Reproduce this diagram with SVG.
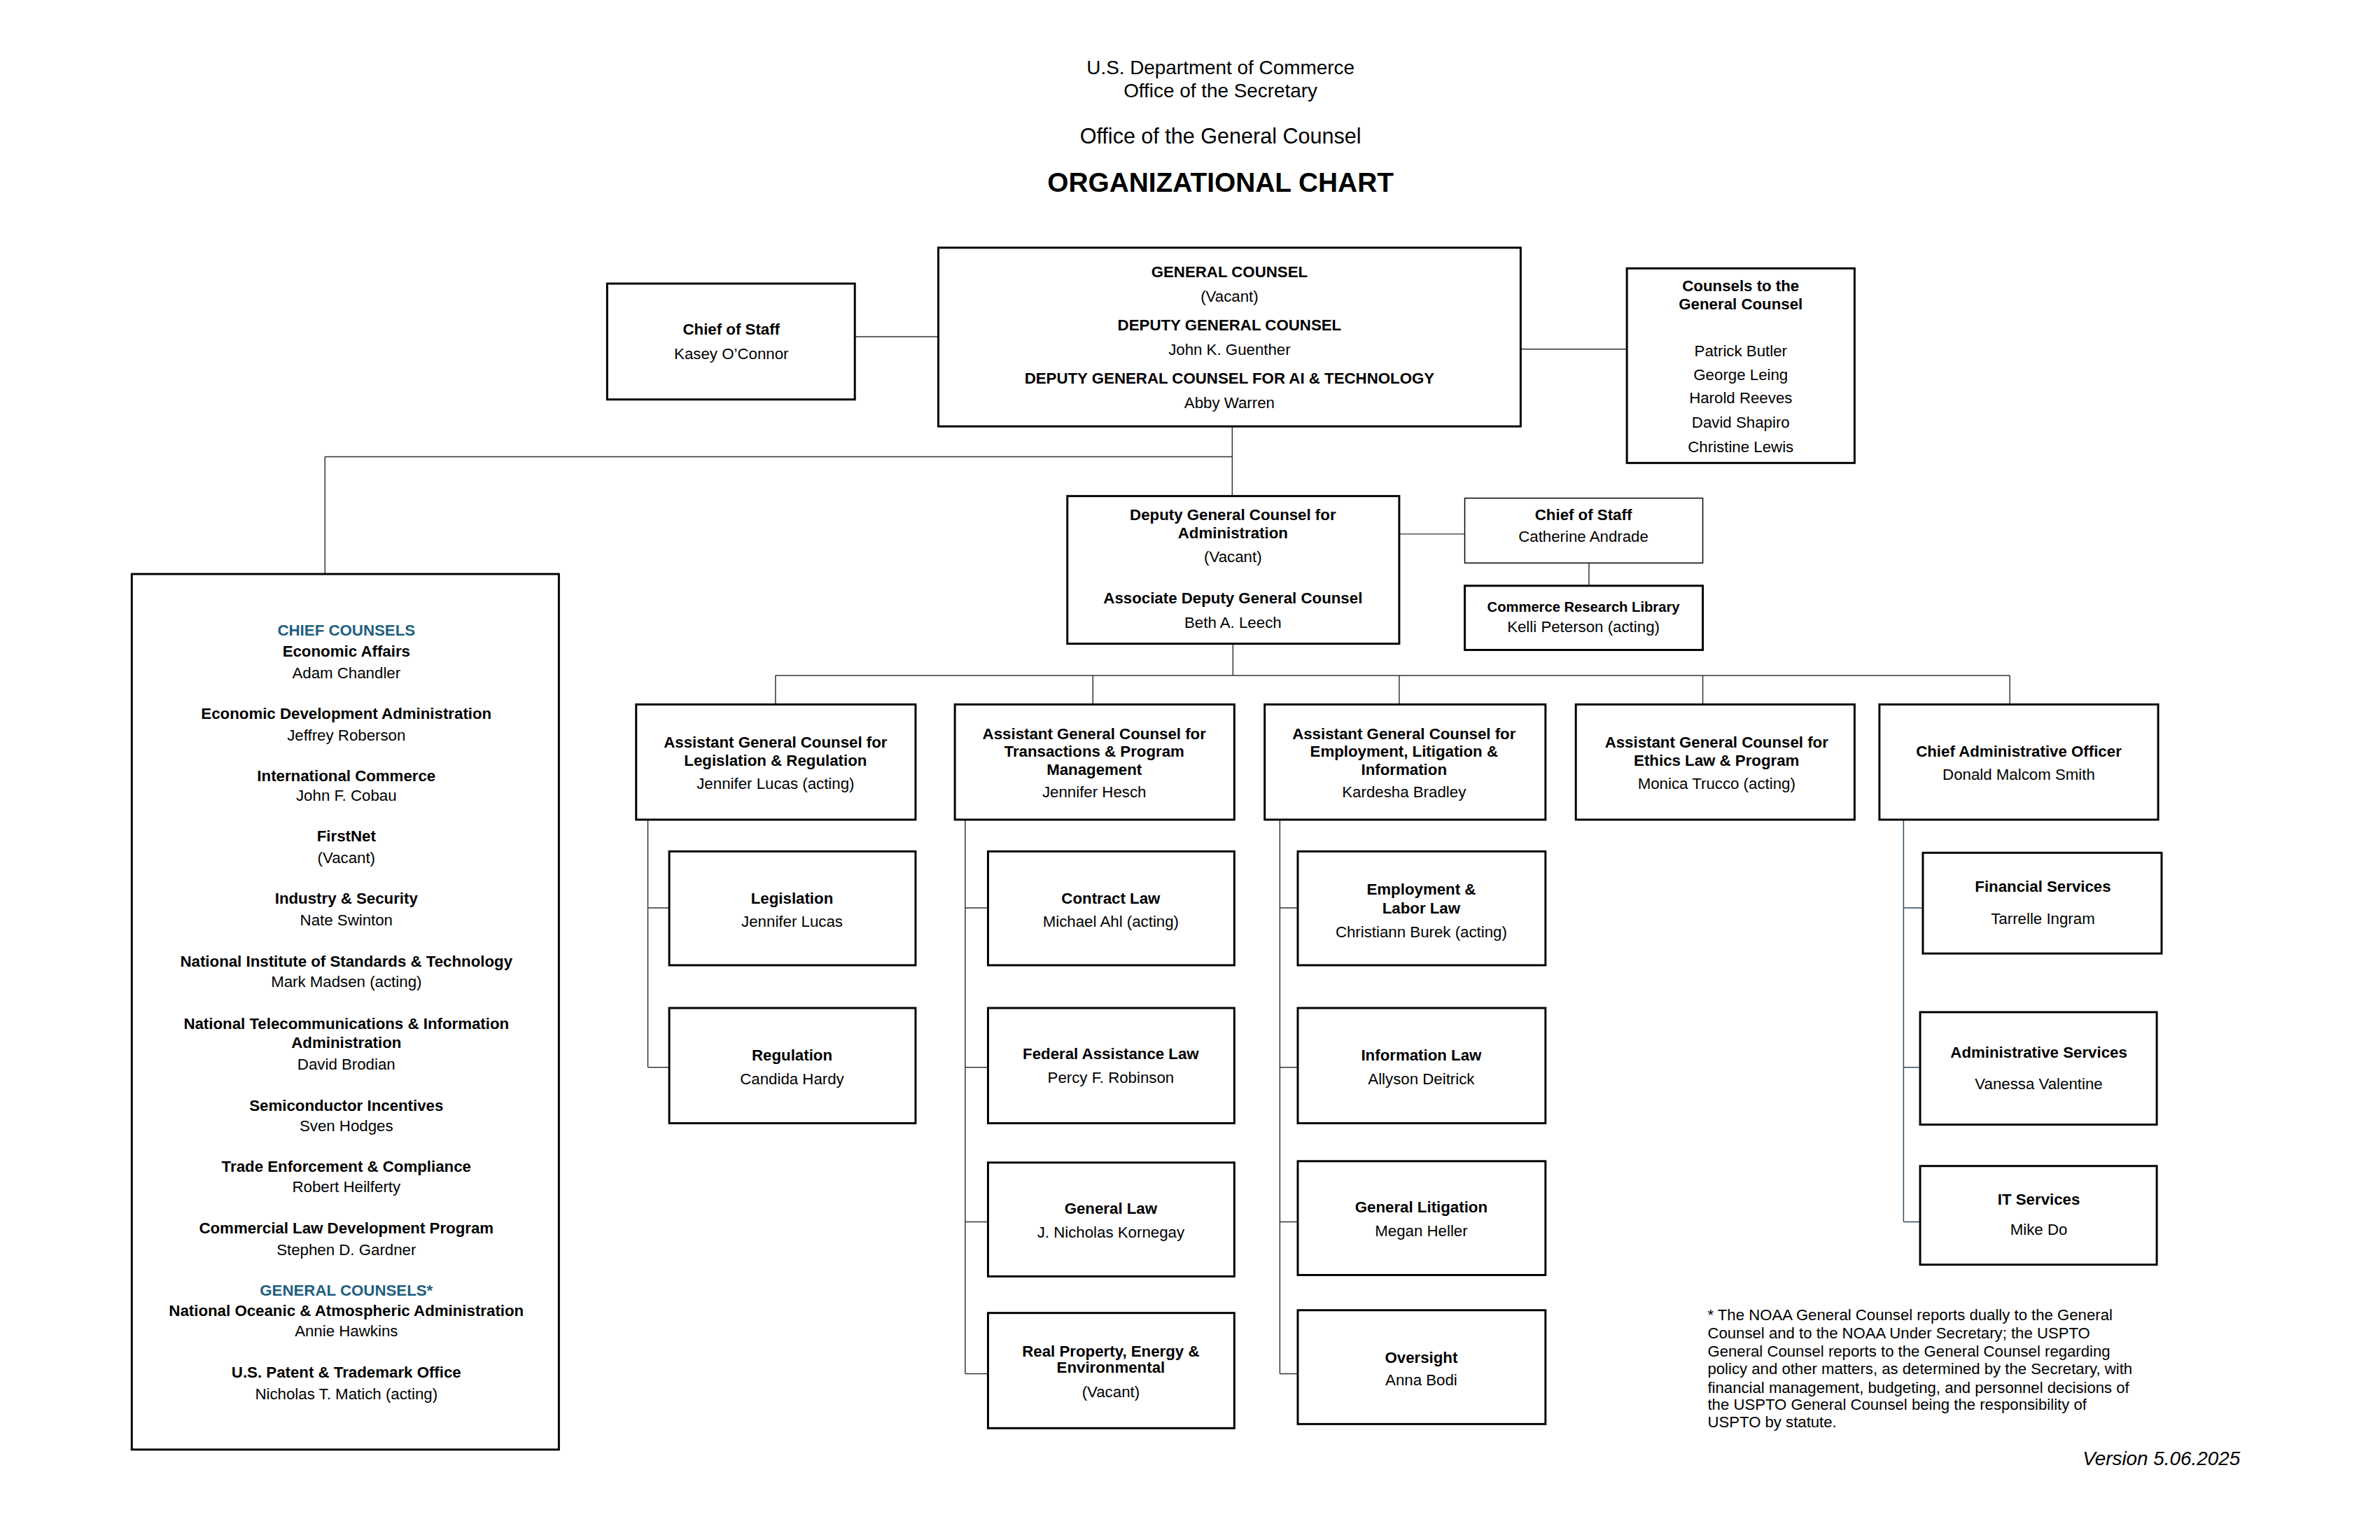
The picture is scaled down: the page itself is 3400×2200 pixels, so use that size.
<svg xmlns="http://www.w3.org/2000/svg" width="3400" height="2200" viewBox="0 0 3400 2200">
<style>
text{font-family:"Liberation Sans",Arial,sans-serif;fill:#000;text-anchor:middle}
.b{font-weight:bold}
.t{font-size:22.6px}
.s{font-size:20.5px}
.box{fill:#fff;stroke:#000;stroke-width:3}
.thin{fill:#fff;stroke:#000;stroke-width:1.5}
.c{fill:none;stroke:#333;stroke-width:1.5}
.cb{fill:none;stroke:#2e4a62;stroke-width:1.5}
.blue{fill:#1f5f7f;font-weight:bold}
.fn{font-size:22.5px;text-anchor:start}
</style>
<rect width="3400" height="2200" fill="#fff"/>
<g transform="scale(0.98564)">
<g id="header">
<text x="1769" y="108" font-size="28.3">U.S. Department of Commerce</text>
<text x="1769" y="141" font-size="28.3">Office of the Secretary</text>
<text x="1769" y="208" font-size="31">Office of the General Counsel</text>
<text x="1769" y="278" font-size="39.4" class="b">ORGANIZATIONAL CHART</text>
</g>
<g id="connectors">
<path class="c" d="M1239 488H1360"/>
<path class="c" d="M2204 506H2358"/>
<path class="c" d="M1786 618V719"/>
<path class="c" d="M471 662H1786"/>
<path class="c" d="M471 662V832"/>
<path class="c" d="M2028 774H2123"/>
<path class="c" d="M2303 816V849"/>
<path class="c" d="M1787 933V979"/>
<path class="c" d="M1124 979H2913"/>
<path class="c" d="M1124 979V1021M1584 979V1021M2028 979V1021M2468 979V1021M2913 979V1021"/>
<path class="c" d="M939 1188V1547M939 1316H970M939 1547H970"/>
<path class="c" d="M1399 1188V1991M1399 1316H1432M1399 1547H1432M1399 1771H1432M1399 1991H1432"/>
<path class="c" d="M1855 1188V1991M1855 1316H1881M1855 1547H1881M1855 1771H1881M1855 1991H1881"/>
<path class="cb" d="M2759 1188V1771M2759 1316H2787M2759 1547H2783M2759 1771H2783"/>
</g>
<g id="chief-of-staff-top">
<rect class="box" x="880" y="411" width="359" height="168"/>
<text class="t b" x="1060" y="485">Chief of Staff</text>
<text class="t" x="1060" y="520">Kasey O’Connor</text>
</g>
<g id="general-counsel">
<rect class="box" x="1360" y="359" width="844" height="259"/>
<text class="t b" x="1782" y="402">GENERAL COUNSEL</text>
<text class="t" x="1782" y="437">(Vacant)</text>
<text class="t b" x="1782" y="479">DEPUTY GENERAL COUNSEL</text>
<text class="t" x="1782" y="514">John K. Guenther</text>
<text class="t b" x="1782" y="556">DEPUTY GENERAL COUNSEL FOR AI &amp; TECHNOLOGY</text>
<text class="t" x="1782" y="591">Abby Warren</text>
</g>
<g id="counsels-to-gc">
<rect class="box" x="2358" y="389" width="330" height="282"/>
<text class="t b" x="2523" y="422">Counsels to the</text>
<text class="t b" x="2523" y="448">General Counsel</text>
<text class="t" x="2523" y="516">Patrick Butler</text>
<text class="t" x="2523" y="551">George Leing</text>
<text class="t" x="2523" y="584">Harold Reeves</text>
<text class="t" x="2523" y="620">David Shapiro</text>
<text class="t" x="2523" y="655">Christine Lewis</text>
</g>
<g id="dgc-admin">
<rect class="box" x="1547" y="719" width="481" height="214"/>
<text class="t b" x="1787" y="754">Deputy General Counsel for</text>
<text class="t b" x="1787" y="780">Administration</text>
<text class="t" x="1787" y="815">(Vacant)</text>
<text class="t b" x="1787" y="875">Associate Deputy General Counsel</text>
<text class="t" x="1787" y="910">Beth A. Leech</text>
</g>
<g id="chief-of-staff-admin">
<rect class="thin" x="2123" y="722" width="345" height="94"/>
<text class="t b" x="2295" y="754">Chief of Staff</text>
<text class="t" x="2295" y="785">Catherine Andrade</text>
</g>
<g id="research-library">
<rect class="box" x="2123" y="849" width="345" height="93"/>
<text class="s b" x="2295" y="887">Commerce Research Library</text>
<text class="t" x="2295" y="916">Kelli Peterson (acting)</text>
</g>
<g id="chief-counsels">
<rect class="box" x="191" y="832" width="619" height="1269"/>
<text class="t blue" x="502" y="921">CHIEF COUNSELS</text>
<text class="t b" x="502" y="952">Economic Affairs</text>
<text class="t" x="502" y="983">Adam Chandler</text>
<text class="t b" x="502" y="1042">Economic Development Administration</text>
<text class="t" x="502" y="1073">Jeffrey Roberson</text>
<text class="t b" x="502" y="1132">International Commerce</text>
<text class="t" x="502" y="1161">John F. Cobau</text>
<text class="t b" x="502" y="1220">FirstNet</text>
<text class="t" x="502" y="1251">(Vacant)</text>
<text class="t b" x="502" y="1310">Industry &amp; Security</text>
<text class="t" x="502" y="1341">Nate Swinton</text>
<text class="t b" x="502" y="1401">National Institute of Standards &amp; Technology</text>
<text class="t" x="502" y="1431">Mark Madsen (acting)</text>
<text class="t b" x="502" y="1491">National Telecommunications &amp; Information</text>
<text class="t b" x="502" y="1519">Administration</text>
<text class="t" x="502" y="1550">David Brodian</text>
<text class="t b" x="502" y="1610">Semiconductor Incentives</text>
<text class="t" x="502" y="1640">Sven Hodges</text>
<text class="t b" x="502" y="1698">Trade Enforcement &amp; Compliance</text>
<text class="t" x="502" y="1728">Robert Heilferty</text>
<text class="t b" x="502" y="1788">Commercial Law Development Program</text>
<text class="t" x="502" y="1819">Stephen D. Gardner</text>
<text class="t blue" x="502" y="1878">GENERAL COUNSELS*</text>
<text class="t b" x="502" y="1907">National Oceanic &amp; Atmospheric Administration</text>
<text class="t" x="502" y="1937">Annie Hawkins</text>
<text class="t b" x="502" y="1997">U.S. Patent &amp; Trademark Office</text>
<text class="t" x="502" y="2028">Nicholas T. Matich (acting)</text>
</g>
<g id="agc-legislation-regulation">
<rect class="box" x="922" y="1021" width="405" height="167"/>
<text class="t b" x="1124" y="1084">Assistant General Counsel for</text>
<text class="t b" x="1124" y="1110">Legislation &amp; Regulation</text>
<text class="t" x="1124" y="1143">Jennifer Lucas (acting)</text>
</g>
<g id="agc-transactions">
<rect class="box" x="1384" y="1021" width="405" height="167"/>
<text class="t b" x="1586" y="1071">Assistant General Counsel for</text>
<text class="t b" x="1586" y="1097">Transactions &amp; Program</text>
<text class="t b" x="1586" y="1123">Management</text>
<text class="t" x="1586" y="1156">Jennifer Hesch</text>
</g>
<g id="agc-employment">
<rect class="box" x="1833" y="1021" width="407" height="167"/>
<text class="t b" x="2035" y="1071">Assistant General Counsel for</text>
<text class="t b" x="2035" y="1097">Employment, Litigation &amp;</text>
<text class="t b" x="2035" y="1123">Information</text>
<text class="t" x="2035" y="1156">Kardesha Bradley</text>
</g>
<g id="agc-ethics">
<rect class="box" x="2284" y="1021" width="404" height="167"/>
<text class="t b" x="2488" y="1084">Assistant General Counsel for</text>
<text class="t b" x="2488" y="1110">Ethics Law &amp; Program</text>
<text class="t" x="2488" y="1143">Monica Trucco (acting)</text>
</g>
<g id="cao">
<rect class="box" x="2724" y="1021" width="404" height="167"/>
<text class="t b" x="2926" y="1097">Chief Administrative Officer</text>
<text class="t" x="2926" y="1130">Donald Malcom Smith</text>
</g>
<g id="legislation">
<rect class="box" x="970" y="1234" width="357" height="165"/>
<text class="t b" x="1148" y="1310">Legislation</text>
<text class="t" x="1148" y="1343">Jennifer Lucas</text>
</g>
<g id="regulation">
<rect class="box" x="970" y="1461" width="357" height="167"/>
<text class="t b" x="1148" y="1537">Regulation</text>
<text class="t" x="1148" y="1572">Candida Hardy</text>
</g>
<g id="contract-law">
<rect class="box" x="1432" y="1234" width="357" height="165"/>
<text class="t b" x="1610" y="1310">Contract Law</text>
<text class="t" x="1610" y="1343">Michael Ahl (acting)</text>
</g>
<g id="federal-assistance-law">
<rect class="box" x="1432" y="1461" width="357" height="167"/>
<text class="t b" x="1610" y="1535">Federal Assistance Law</text>
<text class="t" x="1610" y="1570">Percy F. Robinson</text>
</g>
<g id="general-law">
<rect class="box" x="1432" y="1685" width="357" height="165"/>
<text class="t b" x="1610" y="1759">General Law</text>
<text class="t" x="1610" y="1794">J. Nicholas Kornegay</text>
</g>
<g id="real-property">
<rect class="box" x="1432" y="1903" width="357" height="167"/>
<text class="t b" x="1610" y="1966">Real Property, Energy &amp;</text>
<text class="t b" x="1610" y="1990">Environmental</text>
<text class="t" x="1610" y="2025">(Vacant)</text>
</g>
<g id="employment-labor-law">
<rect class="box" x="1881" y="1234" width="359" height="165"/>
<text class="t b" x="2060" y="1297">Employment &amp;</text>
<text class="t b" x="2060" y="1324">Labor Law</text>
<text class="t" x="2060" y="1359">Christiann Burek (acting)</text>
</g>
<g id="information-law">
<rect class="box" x="1881" y="1461" width="359" height="167"/>
<text class="t b" x="2060" y="1537">Information Law</text>
<text class="t" x="2060" y="1572">Allyson Deitrick</text>
</g>
<g id="general-litigation">
<rect class="box" x="1881" y="1683" width="359" height="165"/>
<text class="t b" x="2060" y="1757">General Litigation</text>
<text class="t" x="2060" y="1792">Megan Heller</text>
</g>
<g id="oversight">
<rect class="box" x="1881" y="1899" width="359" height="165"/>
<text class="t b" x="2060" y="1975">Oversight</text>
<text class="t" x="2060" y="2008">Anna Bodi</text>
</g>
<g id="financial-services">
<rect class="box" x="2787" y="1236" width="346" height="146"/>
<text class="t b" x="2961" y="1293">Financial Services</text>
<text class="t" x="2961" y="1339">Tarrelle Ingram</text>
</g>
<g id="administrative-services">
<rect class="box" x="2783" y="1467" width="343" height="163"/>
<text class="t b" x="2955" y="1533">Administrative Services</text>
<text class="t" x="2955" y="1579">Vanessa Valentine</text>
</g>
<g id="it-services">
<rect class="box" x="2783" y="1690" width="343" height="143"/>
<text class="t b" x="2955" y="1746">IT Services</text>
<text class="t" x="2955" y="1790">Mike Do</text>
</g>
<g id="footnote">
<text class="fn" x="2475" y="1913">* The NOAA General Counsel reports dually to the General</text>
<text class="fn" x="2475" y="1940">Counsel and to the NOAA Under Secretary; the USPTO</text>
<text class="fn" x="2475" y="1966">General Counsel reports to the General Counsel regarding</text>
<text class="fn" x="2475" y="1992">policy and other matters, as determined by the Secretary, with</text>
<text class="fn" x="2475" y="2019">financial management, budgeting, and personnel decisions of</text>
<text class="fn" x="2475" y="2043">the USPTO General Counsel being the responsibility of</text>
<text class="fn" x="2475" y="2069">USPTO by statute.</text>
</g>
<g id="version">
<text x="3247" y="2123" font-size="28.3" font-style="italic" style="text-anchor:end">Version 5.06.2025</text>
</g>
</g>
</svg>
